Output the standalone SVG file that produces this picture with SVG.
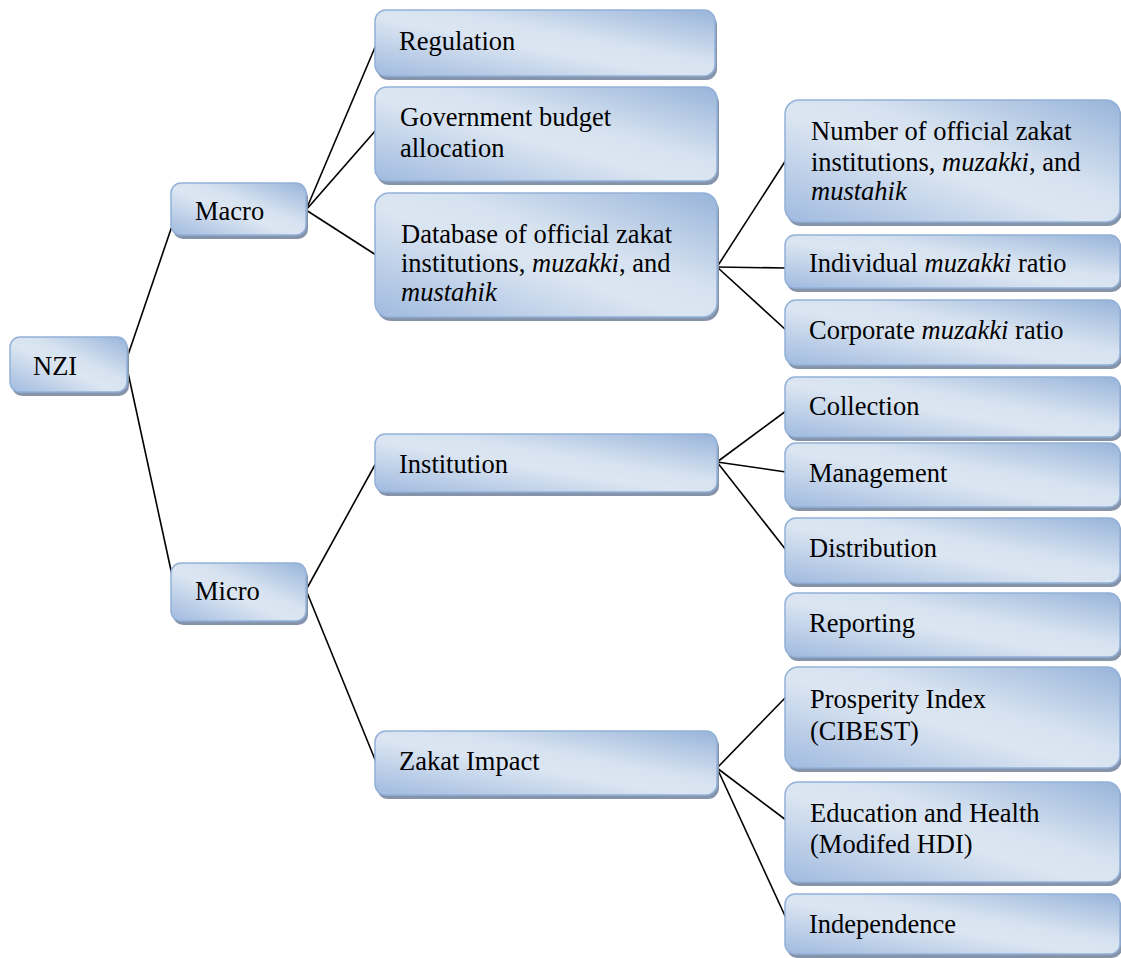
<svg xmlns="http://www.w3.org/2000/svg" width="1121" height="958" viewBox="0 0 1121 958">
<defs>
<linearGradient id="g" x1="0" y1="1" x2="1" y2="0">
<stop offset="0" stop-color="#a0badf"/>
<stop offset="0.45" stop-color="#dce6f2"/>
<stop offset="0.6" stop-color="#d6e2f0"/>
<stop offset="1" stop-color="#98b4da"/>
</linearGradient>
</defs>
<style>
.sh{fill:#8594aa;}
.bx{fill:url(#g);stroke:#93b1d8;stroke-width:1.5;}
text{font-family:"Liberation Serif","Times New Roman",serif;font-size:26.5px;fill:#000;}
.i{font-style:italic;}
.c line{stroke:#000;stroke-width:1.6;}
</style>
<rect width="1121" height="958" fill="#fff"/>
<g class="c" id="connectors">
<line x1="127" y1="358" x2="172" y2="226"/>
<line x1="127" y1="368" x2="172" y2="575"/>
<line x1="306" y1="210" x2="376" y2="45"/>
<line x1="306" y1="210" x2="376" y2="130"/>
<line x1="306" y1="210" x2="376" y2="255"/>
<line x1="717" y1="267" x2="786" y2="160"/>
<line x1="717" y1="267" x2="786" y2="268"/>
<line x1="717" y1="267" x2="786" y2="330"/>
<line x1="306" y1="590" x2="376" y2="463"/>
<line x1="306" y1="590" x2="376" y2="762"/>
<line x1="717" y1="462" x2="786" y2="411"/>
<line x1="717" y1="462" x2="786" y2="472"/>
<line x1="717" y1="462" x2="786" y2="550"/>
<line x1="717" y1="768" x2="786" y2="697"/>
<line x1="717" y1="768" x2="786" y2="820"/>
<line x1="717" y1="768" x2="786" y2="918"/>
</g>
<g id="nzi"><rect class="sh" x="12" y="341" width="117" height="55" rx="10"/><rect class="bx" x="10" y="337" width="117" height="55" rx="10"/><text x="33" y="375">NZI</text></g>
<g id="macro"><rect class="sh" x="173" y="187" width="135" height="52" rx="10"/><rect class="bx" x="171" y="183" width="135" height="52" rx="10"/><text x="195" y="220">Macro</text></g>
<g id="micro"><rect class="sh" x="173" y="567" width="135" height="58" rx="10"/><rect class="bx" x="171" y="563" width="135" height="58" rx="10"/><text x="195" y="600">Micro</text></g>
<g id="regulation"><rect class="sh" x="377" y="14" width="340" height="66" rx="11"/><rect class="bx" x="375" y="10" width="340" height="66" rx="11"/><text x="399" y="50">Regulation</text></g>
<g id="government"><rect class="sh" x="377" y="91" width="342" height="94" rx="12"/><rect class="bx" x="375" y="87" width="342" height="94" rx="12"/><text x="400" y="126">Government budget</text><text x="400" y="157">allocation</text></g>
<g id="database"><rect class="sh" x="377" y="197" width="342" height="124" rx="14"/><rect class="bx" x="375" y="193" width="342" height="124" rx="14"/><text x="401" y="243">Database of official zakat</text><text x="401" y="272">institutions, <tspan class="i">muzakki</tspan>, and</text><text x="401" y="301" class="i">mustahik</text></g>
<g id="number"><rect class="sh" x="787" y="104" width="335" height="122" rx="14"/><rect class="bx" x="785" y="100" width="335" height="122" rx="14"/><text x="811" y="140">Number of official zakat</text><text x="811" y="171">institutions, <tspan class="i">muzakki</tspan>, and</text><text x="811" y="200" class="i">mustahik</text></g>
<g id="individual"><rect class="sh" x="787" y="239" width="335" height="53" rx="10"/><rect class="bx" x="785" y="235" width="335" height="53" rx="10"/><text x="809" y="272">Individual <tspan class="i">muzakki</tspan> ratio</text></g>
<g id="corporate"><rect class="sh" x="787" y="304" width="335" height="65" rx="11"/><rect class="bx" x="785" y="300" width="335" height="65" rx="11"/><text x="809" y="339">Corporate <tspan class="i">muzakki</tspan> ratio</text></g>
<g id="institution"><rect class="sh" x="377" y="438" width="342" height="58" rx="10"/><rect class="bx" x="375" y="434" width="342" height="58" rx="10"/><text x="399" y="473">Institution</text></g>
<g id="collection"><rect class="sh" x="787" y="381" width="335" height="60" rx="10"/><rect class="bx" x="785" y="377" width="335" height="60" rx="10"/><text x="809" y="415">Collection</text></g>
<g id="management"><rect class="sh" x="787" y="447" width="335" height="64" rx="11"/><rect class="bx" x="785" y="443" width="335" height="64" rx="11"/><text x="809" y="482">Management</text></g>
<g id="distribution"><rect class="sh" x="787" y="522" width="335" height="65" rx="11"/><rect class="bx" x="785" y="518" width="335" height="65" rx="11"/><text x="809" y="557">Distribution</text></g>
<g id="reporting"><rect class="sh" x="787" y="597" width="335" height="64" rx="11"/><rect class="bx" x="785" y="593" width="335" height="64" rx="11"/><text x="809" y="632">Reporting</text></g>
<g id="zakat-impact"><rect class="sh" x="377" y="735" width="342" height="64" rx="11"/><rect class="bx" x="375" y="731" width="342" height="64" rx="11"/><text x="399" y="770">Zakat Impact</text></g>
<g id="prosperity"><rect class="sh" x="787" y="671" width="335" height="101" rx="13"/><rect class="bx" x="785" y="667" width="335" height="101" rx="13"/><text x="810" y="708">Prosperity Index</text><text x="810" y="740">(CIBEST)</text></g>
<g id="education"><rect class="sh" x="787" y="786" width="335" height="100" rx="13"/><rect class="bx" x="785" y="782" width="335" height="100" rx="13"/><text x="810" y="822">Education and Health</text><text x="810" y="853">(Modifed HDI)</text></g>
<g id="independence"><rect class="sh" x="787" y="898" width="335" height="60" rx="10"/><rect class="bx" x="785" y="894" width="335" height="60" rx="10"/><text x="809" y="933">Independence</text></g>
</svg>
